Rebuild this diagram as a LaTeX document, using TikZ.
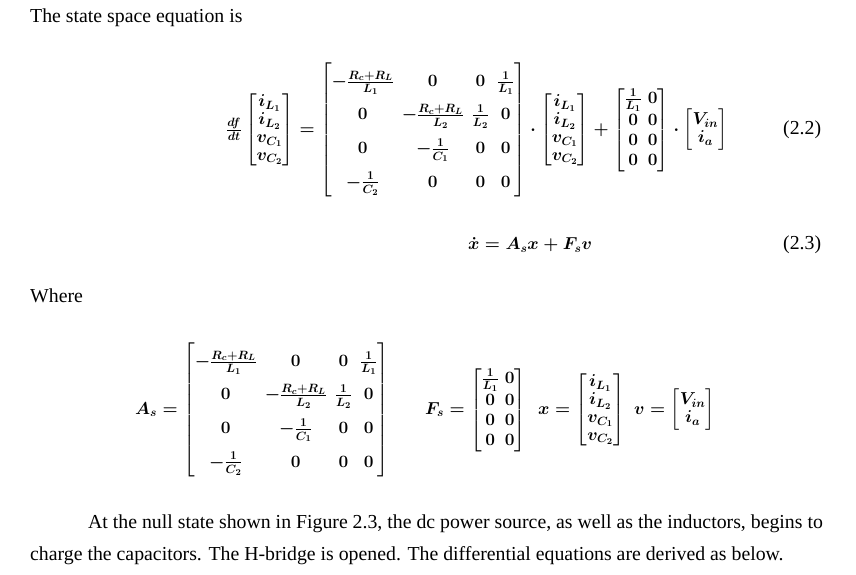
\documentclass[tikz,border=0pt]{standalone}
\usepackage{amsmath}
\usepackage{fontspec}
\setmainfont{Liberation Serif}
\tikzset{txt/.style={anchor=west,inner sep=0pt,font=\fontsize{19.8}{22}\selectfont},
 eq/.style={inner sep=0pt,font=\fontsize{18}{21}\selectfont\mathversion{bold}}}
\newcommand{\Amat}{\setlength\arraycolsep{4pt}\renewcommand\arraystretch{1.6}\begin{bmatrix}
-\tfrac{R_c+R_L}{L_1} & 0 & 0 & \tfrac{1}{L_1}\\
0 & -\tfrac{R_c+R_L}{L_2} & \tfrac{1}{L_2} & 0\\
0 & -\tfrac{1}{C_1} & 0 & 0\\
-\tfrac{1}{C_2} & 0 & 0 & 0\end{bmatrix}}
\newcommand{\Fmat}{\setlength\arraycolsep{3pt}\renewcommand\arraystretch{0.95}\begin{bmatrix}\tfrac{1}{L_1} & 0\\ 0&0\\0&0\\0&0\end{bmatrix}}
\newcommand{\xvec}{\setlength\arraycolsep{3pt}\renewcommand\arraystretch{0.85}\begin{bmatrix}i_{L_1}\\ i_{L_2}\\ v_{C_1}\\ v_{C_2}\end{bmatrix}}
\newcommand{\vvec}{\setlength\arraycolsep{3pt}\renewcommand\arraystretch{0.85}\begin{bmatrix}V_{in}\\ i_a\end{bmatrix}}
\begin{document}
\begin{tikzpicture}[x=1pt,y=1pt]
\useasboundingbox (0,0) rectangle (856,-574);
\node[txt] (t1) at (30,-18) {The state space equation is};
\node[eq,anchor=west] (e22) at (226,-130) {$\frac{df}{dt}\xvec=\Amat\cdot\xvec+\Fmat\cdot\vvec$};
\node[txt] (n22) at (783,-130) {(2.2)};
\node[eq] (e23) at (530,-245) {$\dot{x}=A_sx+F_sv$};
\node[txt] (n23) at (783,-245) {(2.3)};
\node[txt] (w) at (30,-296) {Where};
\node[eq,anchor=west] (As) at (135,-410) {$A_s=\Amat$};
\node[eq,anchor=west] (Fs) at (425,-410) {$F_s=\Fmat$};
\node[eq,anchor=west] (xv) at (538,-410) {$x=\xvec$};
\node[eq,anchor=west] (vv) at (634,-410) {$v=\vvec$};
\node[txt] (p1) at (88,-524) {At the null state shown in Figure 2.3, the dc power source, as well as the inductors, begins to};
\node[txt] (p2) at (30,-556) {charge the capacitors. The H-bridge is opened. The differential equations are derived as below.};
\end{tikzpicture}
\end{document}
